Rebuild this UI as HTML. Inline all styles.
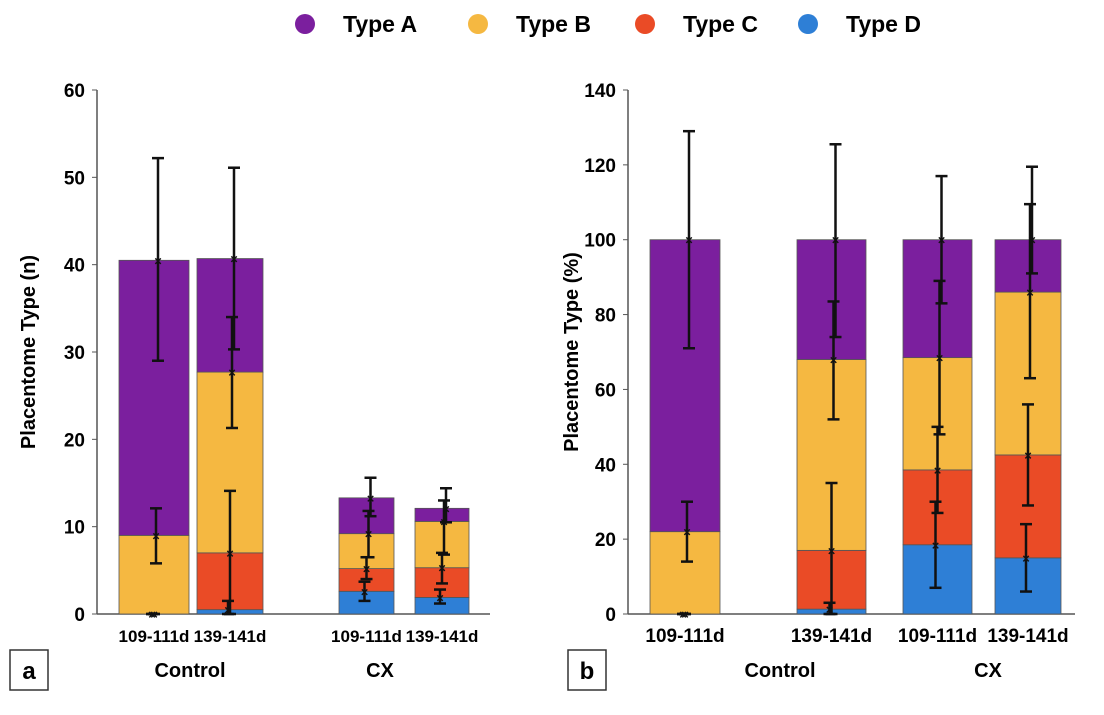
<!DOCTYPE html>
<html><head><meta charset="utf-8"><style>
body{margin:0;background:#fff;width:1104px;height:710px;overflow:hidden;font-family:"Liberation Sans",sans-serif}
svg text{font-family:"Liberation Sans",sans-serif;font-weight:bold}
</style></head><body>
<svg id="s" width="1104" height="710"></svg>
<script>
const seriesNames=["Type A","Type B","Type C","Type D"];
const colors={"Type A":"#7b1f9e","Type B":"#f5b841","Type C":"#ea4b26","Type D":"#2e7fd6"};
const groupsA=["109-111d","139-141d","109-111d","139-141d"];
const leftD=[0,0.5,2.6,1.9],leftC=[0,7,5.2,5.3],leftB=[9,27.7,9.2,10.6],leftA=[40.5,40.7,13.3,12.1];
const leftErrLo=[[0,0,1.5,1.2],[0,0,4,3.5],[5.8,21.3,6.5,6.8],[29,30.3,11.2,10.5]];
const leftErrHi=[[0,1.5,3.7,2.8],[0,14.1,6.5,7],[12.1,34,11.8,13],[52.2,51.1,15.6,14.4]];
const rightD=[0,1.3,18.5,15],rightC=[0,17,38.5,42.5],rightB=[22,68,68.5,86],rightA=[100,100,100,100];
const rightErrLo=[[0,0,7,6],[0,0,27,29],[14,52,48,63],[71,74,83,91]];
const rightErrHi=[[0,3,30,24],[0,35,50,56],[30,83.5,89,109.5],[129,125.5,117,119.5]];
const leftTicks=[0,10,20,30,40,50,60],rightTicks=[0,20,40,60,80,100,120,140];
const NS="http://www.w3.org/2000/svg",svg=document.getElementById('s');
function el(t,a,txt){const e=document.createElementNS(NS,t);for(const k in a)e.setAttribute(k,a[k]);if(txt!==undefined)e.textContent=txt;svg.appendChild(e);return e;}
function panel(cfg){
 const y=v=>cfg.y0-(v/cfg.max)*(cfg.y0-cfg.y1);
 let ax=el('line',{x1:cfg.ax,y1:cfg.y1,x2:cfg.ax,y2:cfg.y0,stroke:'#555','stroke-width':1.5});
 
 let bx=el('line',{x1:cfg.ax,y1:cfg.y0,x2:cfg.xe,y2:cfg.y0,stroke:'#555','stroke-width':1.5});
 
 cfg.ticks.forEach(t=>{
  el('line',{x1:cfg.ax-5,y1:y(t),x2:cfg.ax,y2:y(t),stroke:'#555'});
  let tx=el('text',{x:cfg.ax-12,y:y(t)+7,'text-anchor':'end','font-size':19},t);
  
 });
 const stacks=[cfg.D,cfg.C,cfg.B,cfg.A],names=["Type D","Type C","Type B","Type A"];
 cfg.bx.forEach((bx0,i)=>{
  let prev=0;
  stacks.forEach((s,k)=>{
   const v=s[i];if(v>prev){let r=el('rect',{x:bx0,y:y(v),width:cfg.bw[i],height:y(prev)-y(v),fill:colors[names[k]],stroke:'#555','stroke-width':0.8});
    }
   prev=Math.max(prev,v);
  });
  const cx=bx0+cfg.bw[i]/2+4;
  for(let k=0;k<4;k++){
   const lo=cfg.lo[k][i],hi=cfg.hi[k][i],xx=cx-(3-k)*2;
   const top=[cfg.D,cfg.C,cfg.B,cfg.A][k][i];
   let l=el('line',{x1:xx,y1:y(lo),x2:xx,y2:y(hi),stroke:'#111','stroke-width':2.5});
   
   el('line',{x1:xx-6,y1:y(lo),x2:xx+6,y2:y(lo),stroke:'#111','stroke-width':2.5});
   el('line',{x1:xx-6,y1:y(hi),x2:xx+6,y2:y(hi),stroke:'#111','stroke-width':2.5});
   el('text',{x:xx,y:y(top)+5,'text-anchor':'middle','font-size':13,fill:'#111'},'×');
  }
  let g=el('text',{x:bx0+cfg.bw[i]/2,y:cfg.y0+28,'text-anchor':'middle','font-size':cfg.fs},groupsA[i]);
  
 });
 let c1=el('text',{x:cfg.ctl,y:cfg.y0+63,'text-anchor':'middle','font-size':20},'Control');
 
 let c2=el('text',{x:cfg.cx,y:cfg.y0+63,'text-anchor':'middle','font-size':20},'CX');
 
 let yt=el('text',{x:0,y:0,'text-anchor':'middle','font-size':20,transform:`translate(${cfg.tx},${(cfg.y0+cfg.y1)/2}) rotate(-90)`},cfg.title);
 
 let pb=el('rect',{x:cfg.lx,y:650,width:38,height:40,fill:'#fff',stroke:'#333','stroke-width':1.5});
 
 el('text',{x:cfg.lx+19,y:679,'text-anchor':'middle','font-size':24},cfg.lab);
}
panel({id:'left',ax:97,xe:490,y0:614,y1:90,max:60,ticks:leftTicks,bx:[119,197,339,415],bw:[70,66,55,54],
 D:leftD,C:leftC,B:leftB,A:leftA,lo:leftErrLo,hi:leftErrHi,fs:17,ctl:190,cx:380,tx:35,title:'Placentome Type (n)',lx:10,lab:'a'});
panel({id:'right',ax:628,xe:1075,y0:614,y1:90,max:140,ticks:rightTicks,bx:[650,797,903,995],bw:[70,69,69,66],
 D:rightD,C:rightC,B:rightB,A:rightA,lo:rightErrLo,hi:rightErrHi,fs:19,ctl:780,cx:988,tx:578,title:'Placentome Type (%)',lx:568,lab:'b'});
const legX=[305,478,645,808];
seriesNames.forEach((n,i)=>{
 let c=el('circle',{cx:legX[i],cy:24,r:10,fill:colors[n]});
 
 let t=el('text',{x:legX[i]+38,y:32,'font-size':23},n);
 
});
</script></body></html>
